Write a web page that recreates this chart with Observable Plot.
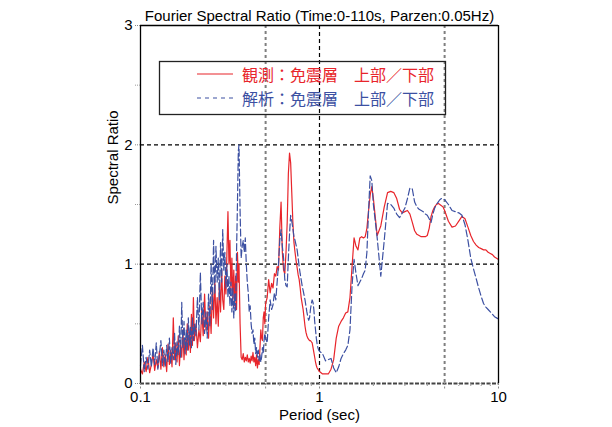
<!DOCTYPE html>
<html><head><meta charset="utf-8">
<script src="https://cdn.jsdelivr.net/npm/d3@7"></script>
<script src="https://cdn.jsdelivr.net/npm/@observablehq/plot@0.6"></script>
<style>
html,body{margin:0;padding:0;background:#fff;}
#wrap{position:relative;width:612px;height:427px;overflow:hidden;}
#legend{position:absolute;left:0;top:0;pointer-events:none;}
</style>
</head><body>
<div id="wrap"></div>
<script>
const titleText = "Fourier Spectral Ratio (Time:0-110s, Parzen:0.05Hz)";
const xLabel = "Period (sec)";
const yLabel = "Spectral Ratio";
const seriesNames = ["観測：免震層　上部／下部", "解析：免震層　上部／下部"];
const xTickValues = [0.1, 0.5, 1, 5, 10];
const xMinorTicks = [0.2, 0.3, 0.4, 0.6, 0.7, 0.8, 0.9, 2, 3, 4, 6, 7, 8, 9];
const yTickValues = [0, 1, 2, 3];
const yMinorTicks = [0.5, 1.5, 2.5];

const period = [
0.1,0.1025,0.105,0.1075,0.11,0.1125,0.115,0.1175,0.12,0.1225,0.125,0.1275,0.13,0.1325,0.135,0.1375,0.14,0.1425,0.145,0.1475,0.15,0.1525,0.155,0.1575,0.16,0.1625,0.165,0.1675,0.17,0.1725,0.175,0.1775,0.18,0.1825,0.185,0.1875,0.19,0.1925,0.195,0.1975,0.2,
0.204,0.208,0.212,0.216,0.22,0.224,0.228,0.232,0.236,0.24,0.244,0.248,0.252,0.256,0.26,0.264,0.268,0.272,0.276,0.28,0.284,0.288,0.292,0.296,0.3,0.304,0.308,0.312,0.316,0.32,0.324,0.328,0.332,0.336,0.34,0.344,0.348,0.352,
0.355,0.36,0.365,0.37,0.375,0.38,0.385,0.39,0.395,0.4,0.405,0.41,0.415,0.42,0.425,0.43,0.435,0.44,0.445,0.45,0.455,0.46,0.465,0.47,0.475,0.48,0.485,0.49,0.495,0.5,
0.51,0.52,0.53,0.54,0.55,0.56,0.57,0.58,0.59,0.6,0.61,0.62,0.63,0.64,0.65,0.66,0.67,0.68,0.69,0.7,0.71,0.72,0.73,0.74,0.75,0.76,0.77,0.78,0.79,0.8,0.81,0.82,0.83,0.84,0.85,0.86,0.87,0.88,0.89,0.9,0.91,0.92,0.93,0.94,0.95,0.96,0.97,0.98,0.99,1.0,
1.04,1.08,1.12,1.16,1.2,1.24,1.28,1.32,1.36,1.4,1.44,1.48,1.52,1.56,1.6,1.64,1.68,1.72,1.76,1.8,1.84,1.88,1.92,1.96,2.0,
2.1,2.2,2.3,2.4,2.5,2.6,2.7,2.8,2.9,3.0,3.1,3.2,3.3,3.4,3.5,3.6,3.7,3.8,3.9,4.0,4.1,4.2,4.3,4.4,4.5,4.6,4.7,4.8,4.9,5.0,
5.25,5.5,5.75,6.0,6.25,6.5,6.75,7.0,7.25,7.5,7.75,8.0,8.25,8.5,8.75,9.0,9.25,9.5,9.75,10.0
];

const observed = [
0.12,0.08,0.18,0.10,0.22,0.09,0.16,0.25,0.11,0.20,0.13,0.27,0.12,0.30,0.14,0.24,0.10,0.33,0.16,0.28,0.14,0.55,0.20,0.34,0.18,0.40,0.15,0.32,0.22,0.45,0.20,0.38,0.24,0.50,0.28,0.42,0.26,0.58,0.32,0.72,0.36,
0.50,0.30,0.45,0.35,0.62,0.40,0.75,0.45,0.60,0.38,0.65,0.42,0.80,0.55,0.87,0.50,0.72,0.48,0.85,0.60,0.95,0.70,0.62,0.90,0.75,1.10,1.44,1.00,1.20,0.78,1.05,0.70,0.95,0.65,0.90,0.62,1.10,0.85,
1.00,0.50,0.22,0.20,0.25,0.18,0.22,0.19,0.24,0.18,0.21,0.17,0.23,0.19,0.26,0.18,0.22,0.15,0.24,0.13,0.20,0.16,0.30,0.45,0.38,0.36,0.55,0.60,0.50,0.67,
0.72,0.87,0.76,0.84,0.80,0.92,0.90,0.98,0.95,1.30,1.52,1.10,0.95,0.92,1.10,1.35,1.76,1.93,1.85,1.60,1.35,1.18,1.10,1.03,0.97,0.91,0.87,0.80,0.72,0.67,0.62,0.55,0.48,0.43,0.40,0.38,0.37,0.36,0.36,0.35,0.34,0.30,0.26,0.22,0.18,0.15,0.13,0.12,0.11,0.10,
0.08,0.08,0.08,0.12,0.20,0.38,0.48,0.52,0.55,0.59,0.60,0.72,0.98,1.22,1.15,1.12,1.22,1.23,1.22,1.23,1.30,1.45,1.58,1.65,1.55,
1.24,1.32,1.48,1.60,1.61,1.60,1.55,1.46,1.43,1.44,1.45,1.42,1.35,1.28,1.25,1.24,1.23,1.23,1.23,1.24,1.30,1.40,1.45,1.48,1.50,1.51,1.50,1.49,1.48,1.45,
1.36,1.31,1.32,1.36,1.40,1.38,1.31,1.24,1.19,1.16,1.14,1.13,1.12,1.12,1.10,1.09,1.08,1.06,1.05,1.04
];

const analysis = [
0.15,0.32,0.10,0.22,0.12,0.28,0.14,0.30,0.16,0.34,0.12,0.24,0.36,0.15,0.28,0.14,0.32,0.18,0.38,0.17,0.30,0.20,0.42,0.16,0.35,0.24,0.48,0.22,0.68,0.30,0.52,0.25,0.45,0.28,0.55,0.32,0.48,0.30,0.55,0.36,0.50,
0.40,0.72,0.45,0.93,0.50,0.68,0.42,0.60,0.38,0.75,0.48,1.00,0.62,1.20,0.75,1.15,0.85,1.05,0.70,1.18,0.85,1.29,0.95,1.10,0.80,1.00,0.72,0.90,0.65,0.85,0.60,0.80,0.55,0.75,0.60,1.10,1.50,1.95,
2.00,1.45,1.05,1.15,1.20,1.10,1.22,1.00,0.85,0.76,0.60,0.65,0.50,0.42,0.45,0.33,0.38,0.25,0.30,0.22,0.28,0.19,0.24,0.18,0.22,0.30,0.25,0.36,0.42,0.38,
0.34,0.55,0.70,0.62,0.66,0.76,0.70,0.85,1.00,1.20,1.29,1.15,1.05,0.87,0.82,0.81,1.05,1.25,1.41,1.36,1.30,1.23,1.20,1.16,1.12,1.05,0.98,0.92,0.87,0.82,0.78,0.74,0.70,0.65,0.60,0.56,0.53,0.55,0.62,0.67,0.70,0.68,0.62,0.52,0.45,0.38,0.33,0.30,0.28,0.27,
0.25,0.19,0.20,0.21,0.13,0.09,0.14,0.21,0.25,0.28,0.32,0.45,0.82,1.04,0.92,0.82,0.85,0.88,0.92,0.95,1.10,1.45,1.74,1.70,1.50,
1.22,0.90,1.20,1.51,1.50,1.47,1.42,1.39,1.43,1.47,1.55,1.64,1.63,1.52,1.48,1.46,1.45,1.44,1.42,1.41,1.38,1.35,1.42,1.47,1.50,1.52,1.54,1.55,1.55,1.54,
1.50,1.45,1.44,1.43,1.41,1.33,1.20,1.05,0.96,0.88,0.80,0.73,0.67,0.64,0.62,0.60,0.58,0.56,0.55,0.54
];

const RED = "#e8252b", BLUE = "#3c50a2";
const table = period.map((p, i) => ({p, obs: observed[i], ana: analysis[i]}));

const chart = Plot.plot({
  width: 612, height: 427,
  marginLeft: 140, marginRight: 114, marginTop: 25, marginBottom: 44,
  style: {fontFamily: "'Liberation Sans', Arial, sans-serif", fontSize: "15px", color: "black", background: "white"},
  x: {type: "log", domain: [0.1, 10], axis: null},
  y: {domain: [0, 3], axis: null},
  marks: [
    Plot.ruleX([0.5, 5], {stroke: "#7f7f7f", strokeWidth: 2, strokeDasharray: "3,3"}),
    Plot.ruleX([1], {stroke: "#000", strokeWidth: 1.2, strokeDasharray: "4,3"}),
    Plot.ruleY([1, 2], {stroke: "#000", strokeWidth: 1.2, strokeDasharray: "4,3"}),
    Plot.line(table, {x: "p", y: "obs", stroke: RED, strokeWidth: 1.2}),
    Plot.line(table, {x: "p", y: "ana", stroke: BLUE, strokeWidth: 1.2, strokeDasharray: "7,3"}),
    Plot.ruleX([0.1, 10], {stroke: "#000", strokeWidth: 1.3}),
    Plot.ruleY([3], {stroke: "#000", strokeWidth: 1.3}),
    Plot.ruleY([0], {stroke: "#444", strokeWidth: 2, strokeDasharray: "4,1.5"}),
    Plot.axisX(xMinorTicks, {anchor: "bottom", label: null, tickSize: 3, tickFormat: () => "", stroke: "#999", strokeDasharray: "1,1"}),
    Plot.axisX(xTickValues, {anchor: "bottom", label: null, tickSize: 6, tickPadding: 2, fontSize: 15, tickFormat: d => String(d), stroke: "#888", strokeDasharray: "2,1.5", fill: "black"}),
    Plot.axisY(yMinorTicks, {anchor: "left", label: null, tickSize: 5, tickFormat: () => "", stroke: "#999", strokeDasharray: "1,1"}),
    Plot.axisY(yTickValues, {anchor: "left", label: null, tickSize: 5, tickPadding: 3, fontSize: 15, tickFormat: d => String(d), stroke: "#888", strokeDasharray: "1,1", fill: "black"}),
    Plot.text([xLabel], {frameAnchor: "bottom", lineAnchor: "middle", dy: 32, fontSize: 15, fill: "black"}),
    Plot.text([yLabel], {frameAnchor: "left", lineAnchor: "middle", dx: -27, rotate: -90, fontSize: 15, fill: "black"}),
    Plot.text([titleText], {frameAnchor: "top", lineAnchor: "middle", dy: -9, fontSize: 15, fill: "black"})
  ]
});
const wrap = document.getElementById("wrap");
wrap.appendChild(chart);

// Legend overlay
const ns = "http://www.w3.org/2000/svg";
const lg = document.createElementNS(ns, "svg");
lg.setAttribute("id", "legend");
lg.setAttribute("width", 612);
lg.setAttribute("height", 427);
const box = document.createElementNS(ns, "rect");
box.setAttribute("x", 159.5); box.setAttribute("y", 61.5);
box.setAttribute("width", 286); box.setAttribute("height", 53);
box.setAttribute("fill", "none"); box.setAttribute("stroke", "#222"); box.setAttribute("stroke-width", 1.3);
lg.appendChild(box);
const rows = [
  {name: seriesNames[0], color: RED, dash: null, y: 74},
  {name: seriesNames[1], color: BLUE, dash: "4,4", y: 98}
];
rows.forEach(r => {
  const ln = document.createElementNS(ns, "line");
  ln.setAttribute("x1", 197); ln.setAttribute("x2", 233);
  ln.setAttribute("y1", r.y); ln.setAttribute("y2", r.y);
  ln.setAttribute("stroke", r.color); ln.setAttribute("stroke-width", 1.2);
  if (r.dash) ln.setAttribute("stroke-dasharray", r.dash);
  lg.appendChild(ln);
  const t = document.createElementNS(ns, "text");
  t.setAttribute("x", 242); t.setAttribute("y", r.y);
  t.setAttribute("dominant-baseline", "central");
  t.setAttribute("fill", r.color);
  t.setAttribute("font-family", "'Noto Sans CJK JP', sans-serif");
  t.setAttribute("font-size", 16);
  t.textContent = r.name;
  lg.appendChild(t);
});
wrap.appendChild(lg);
</script>
</body></html>
